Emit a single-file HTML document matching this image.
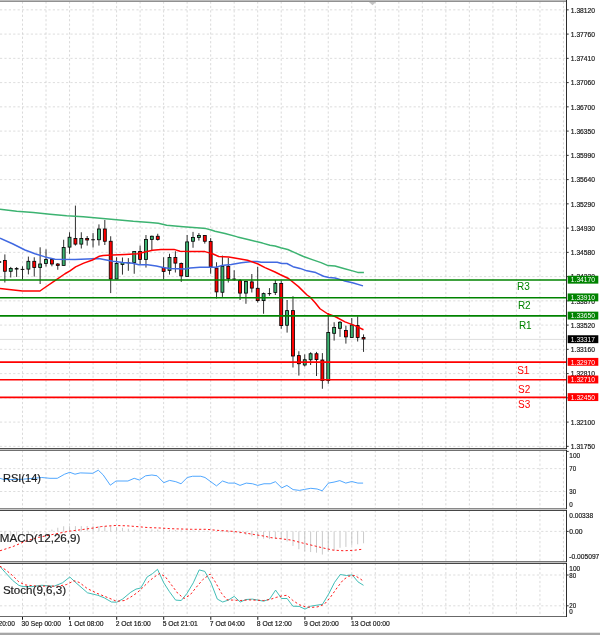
<!DOCTYPE html>
<html lang="en"><head><meta charset="utf-8"><title>Chart</title>
<style>html,body{margin:0;padding:0;background:#fff;overflow:hidden}svg{display:block}text{font-family:"Liberation Sans", sans-serif}</style>
</head><body>
<svg width="600" height="635" viewBox="0 0 600 635">
<rect x="0" y="0" width="600" height="635" fill="#fff"/>
<g stroke="#d0d0d0" stroke-width="0.8" stroke-dasharray="2.2 2.2" fill="none">
<g stroke="#d4d4d4">
<line x1="0" y1="9.85" x2="566.5" y2="9.85"/>
<line x1="0" y1="34.10" x2="566.5" y2="34.10"/>
<line x1="0" y1="58.35" x2="566.5" y2="58.35"/>
<line x1="0" y1="82.60" x2="566.5" y2="82.60"/>
<line x1="0" y1="106.85" x2="566.5" y2="106.85"/>
<line x1="0" y1="131.10" x2="566.5" y2="131.10"/>
<line x1="0" y1="155.35" x2="566.5" y2="155.35"/>
<line x1="0" y1="179.60" x2="566.5" y2="179.60"/>
<line x1="0" y1="203.85" x2="566.5" y2="203.85"/>
<line x1="0" y1="228.10" x2="566.5" y2="228.10"/>
<line x1="0" y1="252.35" x2="566.5" y2="252.35"/>
<line x1="0" y1="276.60" x2="566.5" y2="276.60"/>
<line x1="0" y1="300.85" x2="566.5" y2="300.85"/>
<line x1="0" y1="325.10" x2="566.5" y2="325.10"/>
<line x1="0" y1="349.35" x2="566.5" y2="349.35"/>
<line x1="0" y1="373.60" x2="566.5" y2="373.60"/>
<line x1="0" y1="397.85" x2="566.5" y2="397.85"/>
<line x1="0" y1="422.10" x2="566.5" y2="422.10"/>
<line x1="0" y1="446.35" x2="566.5" y2="446.35"/>
<line x1="0" y1="468.60" x2="566.5" y2="468.60"/>
<line x1="0" y1="491.50" x2="566.5" y2="491.50"/>
<line x1="0" y1="531.40" x2="566.5" y2="531.40"/>
<line x1="0" y1="575.00" x2="566.5" y2="575.00"/>
<line x1="0" y1="605.80" x2="566.5" y2="605.80"/>
</g>
<line x1="22.50" y1="1.5" x2="22.50" y2="448.5"/>
<line x1="22.50" y1="450.4" x2="22.50" y2="508.4"/>
<line x1="22.50" y1="510.2" x2="22.50" y2="561.4"/>
<line x1="22.50" y1="563.3" x2="22.50" y2="616.5"/>
<line x1="46.02" y1="1.5" x2="46.02" y2="448.5"/>
<line x1="46.02" y1="450.4" x2="46.02" y2="508.4"/>
<line x1="46.02" y1="510.2" x2="46.02" y2="561.4"/>
<line x1="46.02" y1="563.3" x2="46.02" y2="616.5"/>
<line x1="69.54" y1="1.5" x2="69.54" y2="448.5"/>
<line x1="69.54" y1="450.4" x2="69.54" y2="508.4"/>
<line x1="69.54" y1="510.2" x2="69.54" y2="561.4"/>
<line x1="69.54" y1="563.3" x2="69.54" y2="616.5"/>
<line x1="93.06" y1="1.5" x2="93.06" y2="448.5"/>
<line x1="93.06" y1="450.4" x2="93.06" y2="508.4"/>
<line x1="93.06" y1="510.2" x2="93.06" y2="561.4"/>
<line x1="93.06" y1="563.3" x2="93.06" y2="616.5"/>
<line x1="116.58" y1="1.5" x2="116.58" y2="448.5"/>
<line x1="116.58" y1="450.4" x2="116.58" y2="508.4"/>
<line x1="116.58" y1="510.2" x2="116.58" y2="561.4"/>
<line x1="116.58" y1="563.3" x2="116.58" y2="616.5"/>
<line x1="140.10" y1="1.5" x2="140.10" y2="448.5"/>
<line x1="140.10" y1="450.4" x2="140.10" y2="508.4"/>
<line x1="140.10" y1="510.2" x2="140.10" y2="561.4"/>
<line x1="140.10" y1="563.3" x2="140.10" y2="616.5"/>
<line x1="163.62" y1="1.5" x2="163.62" y2="448.5"/>
<line x1="163.62" y1="450.4" x2="163.62" y2="508.4"/>
<line x1="163.62" y1="510.2" x2="163.62" y2="561.4"/>
<line x1="163.62" y1="563.3" x2="163.62" y2="616.5"/>
<line x1="187.14" y1="1.5" x2="187.14" y2="448.5"/>
<line x1="187.14" y1="450.4" x2="187.14" y2="508.4"/>
<line x1="187.14" y1="510.2" x2="187.14" y2="561.4"/>
<line x1="187.14" y1="563.3" x2="187.14" y2="616.5"/>
<line x1="210.66" y1="1.5" x2="210.66" y2="448.5"/>
<line x1="210.66" y1="450.4" x2="210.66" y2="508.4"/>
<line x1="210.66" y1="510.2" x2="210.66" y2="561.4"/>
<line x1="210.66" y1="563.3" x2="210.66" y2="616.5"/>
<line x1="234.18" y1="1.5" x2="234.18" y2="448.5"/>
<line x1="234.18" y1="450.4" x2="234.18" y2="508.4"/>
<line x1="234.18" y1="510.2" x2="234.18" y2="561.4"/>
<line x1="234.18" y1="563.3" x2="234.18" y2="616.5"/>
<line x1="257.70" y1="1.5" x2="257.70" y2="448.5"/>
<line x1="257.70" y1="450.4" x2="257.70" y2="508.4"/>
<line x1="257.70" y1="510.2" x2="257.70" y2="561.4"/>
<line x1="257.70" y1="563.3" x2="257.70" y2="616.5"/>
<line x1="281.22" y1="1.5" x2="281.22" y2="448.5"/>
<line x1="281.22" y1="450.4" x2="281.22" y2="508.4"/>
<line x1="281.22" y1="510.2" x2="281.22" y2="561.4"/>
<line x1="281.22" y1="563.3" x2="281.22" y2="616.5"/>
<line x1="304.74" y1="1.5" x2="304.74" y2="448.5"/>
<line x1="304.74" y1="450.4" x2="304.74" y2="508.4"/>
<line x1="304.74" y1="510.2" x2="304.74" y2="561.4"/>
<line x1="304.74" y1="563.3" x2="304.74" y2="616.5"/>
<line x1="328.26" y1="1.5" x2="328.26" y2="448.5"/>
<line x1="328.26" y1="450.4" x2="328.26" y2="508.4"/>
<line x1="328.26" y1="510.2" x2="328.26" y2="561.4"/>
<line x1="328.26" y1="563.3" x2="328.26" y2="616.5"/>
<line x1="351.78" y1="1.5" x2="351.78" y2="448.5"/>
<line x1="351.78" y1="450.4" x2="351.78" y2="508.4"/>
<line x1="351.78" y1="510.2" x2="351.78" y2="561.4"/>
<line x1="351.78" y1="563.3" x2="351.78" y2="616.5"/>
<line x1="375.30" y1="1.5" x2="375.30" y2="448.5"/>
<line x1="375.30" y1="450.4" x2="375.30" y2="508.4"/>
<line x1="375.30" y1="510.2" x2="375.30" y2="561.4"/>
<line x1="375.30" y1="563.3" x2="375.30" y2="616.5"/>
<line x1="398.82" y1="1.5" x2="398.82" y2="448.5"/>
<line x1="398.82" y1="450.4" x2="398.82" y2="508.4"/>
<line x1="398.82" y1="510.2" x2="398.82" y2="561.4"/>
<line x1="398.82" y1="563.3" x2="398.82" y2="616.5"/>
<line x1="422.34" y1="1.5" x2="422.34" y2="448.5"/>
<line x1="422.34" y1="450.4" x2="422.34" y2="508.4"/>
<line x1="422.34" y1="510.2" x2="422.34" y2="561.4"/>
<line x1="422.34" y1="563.3" x2="422.34" y2="616.5"/>
<line x1="445.86" y1="1.5" x2="445.86" y2="448.5"/>
<line x1="445.86" y1="450.4" x2="445.86" y2="508.4"/>
<line x1="445.86" y1="510.2" x2="445.86" y2="561.4"/>
<line x1="445.86" y1="563.3" x2="445.86" y2="616.5"/>
<line x1="469.38" y1="1.5" x2="469.38" y2="448.5"/>
<line x1="469.38" y1="450.4" x2="469.38" y2="508.4"/>
<line x1="469.38" y1="510.2" x2="469.38" y2="561.4"/>
<line x1="469.38" y1="563.3" x2="469.38" y2="616.5"/>
<line x1="492.90" y1="1.5" x2="492.90" y2="448.5"/>
<line x1="492.90" y1="450.4" x2="492.90" y2="508.4"/>
<line x1="492.90" y1="510.2" x2="492.90" y2="561.4"/>
<line x1="492.90" y1="563.3" x2="492.90" y2="616.5"/>
<line x1="516.42" y1="1.5" x2="516.42" y2="448.5"/>
<line x1="516.42" y1="450.4" x2="516.42" y2="508.4"/>
<line x1="516.42" y1="510.2" x2="516.42" y2="561.4"/>
<line x1="516.42" y1="563.3" x2="516.42" y2="616.5"/>
<line x1="539.94" y1="1.5" x2="539.94" y2="448.5"/>
<line x1="539.94" y1="450.4" x2="539.94" y2="508.4"/>
<line x1="539.94" y1="510.2" x2="539.94" y2="561.4"/>
<line x1="539.94" y1="563.3" x2="539.94" y2="616.5"/>
<line x1="563.46" y1="1.5" x2="563.46" y2="448.5"/>
<line x1="563.46" y1="450.4" x2="563.46" y2="508.4"/>
<line x1="563.46" y1="510.2" x2="563.46" y2="561.4"/>
<line x1="563.46" y1="563.3" x2="563.46" y2="616.5"/>
</g>
<rect x="0" y="0" width="566.9" height="1" fill="#bcbcbc"/>
<rect x="0" y="1" width="566.9" height="0.9" fill="#858585"/>
<polygon points="368.9,1.9 376.1,1.9 372.5,5.3" fill="#c4c4c4"/>
<line x1="0" y1="339.4" x2="566.5" y2="339.4" stroke="#d2d2d2" stroke-width="0.75"/>
<g stroke="#000" stroke-width="0.82">
<line x1="0" y1="262" x2="1.2" y2="262" stroke-width="1.3"/>
<line x1="4.86" y1="254.4" x2="4.86" y2="282.5"/>
<rect x="3.38" y="260.4" width="2.95" height="10.85" fill="#ff0000"/>
<line x1="10.74" y1="266.9" x2="10.74" y2="277.5"/>
<rect x="9.27" y="268.5" width="2.95" height="2.80" fill="#3cb371"/>
<line x1="16.62" y1="267.1" x2="16.62" y2="276.9"/>
<line x1="14.75" y1="268.8" x2="18.50" y2="268.8" stroke-width="1.4"/>
<line x1="22.50" y1="266.3" x2="22.50" y2="279.4"/>
<line x1="20.62" y1="269.4" x2="24.38" y2="269.4" stroke-width="0.95"/>
<line x1="28.38" y1="256.6" x2="28.38" y2="274.4"/>
<rect x="26.90" y="261.3" width="2.95" height="7.80" fill="#3cb371"/>
<line x1="34.26" y1="257.3" x2="34.26" y2="276.6"/>
<rect x="32.78" y="261.3" width="2.95" height="6.20" fill="#ff0000"/>
<line x1="40.14" y1="247.3" x2="40.14" y2="284"/>
<rect x="38.66" y="264" width="2.95" height="3.50" fill="#3cb371"/>
<line x1="46.02" y1="249.4" x2="46.02" y2="266.5"/>
<rect x="44.54" y="259.6" width="2.95" height="3.90" fill="#3cb371"/>
<line x1="51.90" y1="259" x2="51.90" y2="266.3"/>
<rect x="50.42" y="259.6" width="2.95" height="4.40" fill="#ff0000"/>
<line x1="57.78" y1="263.1" x2="57.78" y2="269.75"/>
<rect x="56.30" y="264" width="2.95" height="1.40" fill="#ff0000"/>
<line x1="63.66" y1="239.75" x2="63.66" y2="265.4"/>
<rect x="62.18" y="247.5" width="2.95" height="17.90" fill="#3cb371"/>
<line x1="69.54" y1="232.25" x2="69.54" y2="253.75"/>
<rect x="68.06" y="237.25" width="2.95" height="9.85" fill="#3cb371"/>
<line x1="75.42" y1="205.6" x2="75.42" y2="245.6"/>
<rect x="73.95" y="238.5" width="2.95" height="5.60" fill="#ff0000"/>
<line x1="81.30" y1="232.25" x2="81.30" y2="248.5"/>
<rect x="79.83" y="238.5" width="2.95" height="5.60" fill="#3cb371"/>
<line x1="87.18" y1="236" x2="87.18" y2="245.6"/>
<rect x="85.70" y="238.5" width="2.95" height="1.50" fill="#ff0000"/>
<line x1="93.06" y1="233.1" x2="93.06" y2="247.5"/>
<line x1="91.19" y1="239.75" x2="94.94" y2="239.75" stroke-width="0.95"/>
<line x1="98.94" y1="224.4" x2="98.94" y2="245.6"/>
<rect x="97.47" y="229" width="2.95" height="10.75" fill="#3cb371"/>
<line x1="104.82" y1="220" x2="104.82" y2="245"/>
<rect x="103.34" y="229" width="2.95" height="12.25" fill="#ff0000"/>
<line x1="110.70" y1="236.25" x2="110.70" y2="293.1"/>
<rect x="109.23" y="241.25" width="2.95" height="37.75" fill="#ff0000"/>
<line x1="116.58" y1="257.25" x2="116.58" y2="279"/>
<rect x="115.11" y="263.5" width="2.95" height="15.50" fill="#3cb371"/>
<line x1="122.46" y1="257.5" x2="122.46" y2="274.6"/>
<rect x="120.98" y="262.5" width="2.95" height="1.90" fill="#3cb371"/>
<line x1="128.34" y1="258.1" x2="128.34" y2="270.8"/>
<line x1="126.47" y1="262.8" x2="130.22" y2="262.8" stroke-width="0.95"/>
<line x1="134.22" y1="251.25" x2="134.22" y2="273.75"/>
<rect x="132.75" y="251.5" width="2.95" height="11.00" fill="#3cb371"/>
<line x1="140.10" y1="245.6" x2="140.10" y2="264.1"/>
<rect x="138.62" y="251.4" width="2.95" height="8.00" fill="#ff0000"/>
<line x1="145.98" y1="235" x2="145.98" y2="267.6"/>
<rect x="144.51" y="239.4" width="2.95" height="20.00" fill="#3cb371"/>
<line x1="151.86" y1="235.6" x2="151.86" y2="250"/>
<rect x="150.38" y="236.25" width="2.95" height="3.15" fill="#3cb371"/>
<line x1="157.74" y1="233.75" x2="157.74" y2="240.6"/>
<rect x="156.27" y="236.25" width="2.95" height="3.15" fill="#ff0000"/>
<line x1="163.62" y1="257.25" x2="163.62" y2="279.2"/>
<rect x="162.15" y="267.75" width="2.95" height="3.65" fill="#ff0000"/>
<line x1="169.50" y1="253.75" x2="169.50" y2="274.6"/>
<rect x="168.03" y="257.5" width="2.95" height="12.90" fill="#3cb371"/>
<line x1="175.38" y1="251.25" x2="175.38" y2="272.5"/>
<rect x="173.91" y="257.5" width="2.95" height="5.60" fill="#ff0000"/>
<line x1="181.26" y1="262.5" x2="181.26" y2="281.9"/>
<rect x="179.78" y="263.5" width="2.95" height="12.40" fill="#ff0000"/>
<line x1="187.14" y1="235" x2="187.14" y2="276.5"/>
<rect x="185.66" y="241.9" width="2.95" height="34.60" fill="#3cb371"/>
<line x1="193.02" y1="231.9" x2="193.02" y2="247.75"/>
<rect x="191.55" y="237.5" width="2.95" height="3.75" fill="#3cb371"/>
<line x1="198.90" y1="233.1" x2="198.90" y2="240.6"/>
<rect x="197.43" y="235.4" width="2.95" height="2.10" fill="#3cb371"/>
<line x1="204.78" y1="235" x2="204.78" y2="243.6"/>
<rect x="203.31" y="235.5" width="2.95" height="5.75" fill="#ff0000"/>
<line x1="210.66" y1="238.1" x2="210.66" y2="273.75"/>
<rect x="209.19" y="241.4" width="2.95" height="25.40" fill="#ff0000"/>
<line x1="216.54" y1="262.25" x2="216.54" y2="298.5"/>
<rect x="215.06" y="268.1" width="2.95" height="23.80" fill="#ff0000"/>
<line x1="222.42" y1="255.6" x2="222.42" y2="296.9"/>
<rect x="220.94" y="266.25" width="2.95" height="26.00" fill="#3cb371"/>
<line x1="228.30" y1="257.75" x2="228.30" y2="282.5"/>
<rect x="226.82" y="266.25" width="2.95" height="12.50" fill="#ff0000"/>
<line x1="234.18" y1="270.25" x2="234.18" y2="280.6"/>
<line x1="232.31" y1="279.1" x2="236.06" y2="279.1" stroke-width="0.95"/>
<line x1="240.06" y1="279" x2="240.06" y2="300"/>
<rect x="238.59" y="280.6" width="2.95" height="12.50" fill="#ff0000"/>
<line x1="245.94" y1="280.8" x2="245.94" y2="303.75"/>
<rect x="244.47" y="281.5" width="2.95" height="11.60" fill="#3cb371"/>
<line x1="251.82" y1="274" x2="251.82" y2="292.5"/>
<rect x="250.34" y="281.9" width="2.95" height="6.20" fill="#ff0000"/>
<line x1="257.70" y1="266.9" x2="257.70" y2="302.5"/>
<rect x="256.22" y="288.3" width="2.95" height="12.30" fill="#ff0000"/>
<line x1="263.58" y1="292.5" x2="263.58" y2="313.75"/>
<rect x="262.10" y="293.6" width="2.95" height="7.00" fill="#3cb371"/>
<line x1="269.46" y1="288.1" x2="269.46" y2="295.8"/>
<line x1="267.59" y1="293.6" x2="271.34" y2="293.6" stroke-width="0.95"/>
<line x1="275.34" y1="280" x2="275.34" y2="295"/>
<rect x="273.87" y="283.5" width="2.95" height="8.90" fill="#3cb371"/>
<line x1="281.22" y1="280.6" x2="281.22" y2="328.75"/>
<rect x="279.74" y="283.5" width="2.95" height="42.10" fill="#ff0000"/>
<line x1="287.10" y1="300" x2="287.10" y2="332.6"/>
<rect x="285.62" y="310.6" width="2.95" height="14.65" fill="#3cb371"/>
<line x1="292.98" y1="296.25" x2="292.98" y2="367.5"/>
<rect x="291.50" y="310.6" width="2.95" height="45.40" fill="#ff0000"/>
<line x1="298.86" y1="351.25" x2="298.86" y2="375.6"/>
<rect x="297.38" y="355.6" width="2.95" height="8.15" fill="#ff0000"/>
<line x1="304.74" y1="354.4" x2="304.74" y2="366.5"/>
<rect x="303.26" y="359.75" width="2.95" height="5.25" fill="#3cb371"/>
<line x1="310.62" y1="352.25" x2="310.62" y2="365"/>
<rect x="309.14" y="353.75" width="2.95" height="6.00" fill="#3cb371"/>
<line x1="316.50" y1="351.9" x2="316.50" y2="376"/>
<rect x="315.02" y="353.75" width="2.95" height="5.85" fill="#ff0000"/>
<line x1="322.38" y1="353.1" x2="322.38" y2="388.75"/>
<rect x="320.90" y="360" width="2.95" height="20.60" fill="#ff0000"/>
<line x1="328.26" y1="313.1" x2="328.26" y2="383.75"/>
<rect x="326.78" y="332.5" width="2.95" height="48.10" fill="#3cb371"/>
<line x1="334.14" y1="322.25" x2="334.14" y2="340.6"/>
<rect x="332.66" y="327.4" width="2.95" height="5.90" fill="#3cb371"/>
<line x1="340.02" y1="321.1" x2="340.02" y2="336.9"/>
<rect x="338.54" y="322.25" width="2.95" height="6.05" fill="#3cb371"/>
<line x1="345.90" y1="325.6" x2="345.90" y2="343.6"/>
<rect x="344.42" y="330.4" width="2.95" height="6.50" fill="#ff0000"/>
<line x1="351.78" y1="318.1" x2="351.78" y2="337.5"/>
<rect x="350.30" y="325" width="2.95" height="12.50" fill="#3cb371"/>
<line x1="357.66" y1="316.25" x2="357.66" y2="341.5"/>
<rect x="356.18" y="325.6" width="2.95" height="11.90" fill="#ff0000"/>
<line x1="363.54" y1="334.4" x2="363.54" y2="351.9"/>
<rect x="362.06" y="337.5" width="2.95" height="1.50" fill="#ff0000"/>
</g>
<polyline points="0.00,209.20 16.70,211.20 33.30,212.50 50.00,214.20 66.70,215.80 83.30,216.80 100.00,218.20 116.70,219.70 133.30,221.30 150.00,222.40 158.30,223.20 166.70,225.20 183.30,226.70 200.00,228.10 206.00,228.60 211.25,230.00 215.00,231.20 225.00,233.50 237.50,236.90 250.00,240.00 262.50,243.10 270.00,245.25 275.00,246.00 280.75,247.75 287.75,249.50 294.75,252.65 303.50,256.50 312.25,259.65 321.00,262.60 328.00,265.60 335.00,266.10 343.75,268.40 352.50,270.85 357.75,272.40 363.90,272.40" fill="none" stroke="#3cb371" stroke-width="1.5" stroke-linejoin="round"/>
<polyline points="0.00,238.20 12.50,243.75 25.00,250.00 35.00,253.75 45.00,256.90 55.00,259.30 75.00,259.40 98.75,258.60 106.25,260.00 113.00,261.25 123.00,262.40 133.00,263.30 138.75,264.75 147.50,264.75 156.25,266.10 163.00,267.60 170.00,268.60 185.00,269.00 190.00,268.10 200.00,267.25 216.25,267.25 221.25,265.60 231.25,264.40 241.25,262.75 252.50,261.50 257.50,261.50 261.00,262.20 277.25,262.20 281.60,263.50 286.90,263.50 293.00,266.65 300.00,268.40 307.00,270.85 315.75,272.60 323.60,276.30 328.90,277.50 335.00,278.00 343.75,280.65 352.50,282.75 363.00,285.90" fill="none" stroke="#4169e1" stroke-width="1.5" stroke-linejoin="round"/>
<polyline points="0.00,288.60 11.25,289.70 22.50,290.90 40.00,291.00 43.10,288.75 55.00,280.60 65.00,273.75 70.00,270.80 75.60,266.90 83.75,263.10 92.50,260.00 99.40,256.20 103.10,255.40 112.50,255.10 125.00,254.50 137.50,253.75 145.00,252.00 152.50,250.25 161.00,249.40 174.00,249.40 180.00,251.25 192.50,251.50 205.00,251.60 210.00,253.10 212.50,253.75 218.75,256.50 228.75,256.90 237.50,258.50 247.50,260.25 257.50,263.75 265.00,267.60 275.00,272.00 280.00,274.50 288.50,278.50 298.50,286.60 307.00,295.00 310.00,297.00 315.00,302.50 320.00,308.75 327.50,313.75 335.00,316.50 345.00,321.90 355.00,325.60 363.50,329.75" fill="none" stroke="#ff0000" stroke-width="1.5" stroke-linejoin="round"/>
<line x1="0" y1="280.0" x2="566.5" y2="280.0" stroke="#008300" stroke-width="1.6"/>
<line x1="0" y1="297.7" x2="566.5" y2="297.7" stroke="#008300" stroke-width="1.6"/>
<line x1="0" y1="315.9" x2="566.5" y2="315.9" stroke="#008300" stroke-width="1.6"/>
<line x1="0" y1="362.15" x2="566.5" y2="362.15" stroke="#ff0000" stroke-width="1.6"/>
<line x1="0" y1="379.8" x2="566.5" y2="379.8" stroke="#ff0000" stroke-width="1.6"/>
<line x1="0" y1="397.4" x2="566.5" y2="397.4" stroke="#ff0000" stroke-width="1.6"/>
<text x="517.0" y="290.4" font-size="10" fill="#008300">R3</text>
<text x="517.9" y="308.9" font-size="10" fill="#008300">R2</text>
<text x="518.9" y="328.7" font-size="10" fill="#008300">R1</text>
<text x="517.2" y="373.6" font-size="10" fill="#ff0000">S1</text>
<text x="518.1" y="393.3" font-size="10" fill="#ff0000">S2</text>
<text x="518.1" y="407.9" font-size="10" fill="#ff0000">S3</text>
<polyline points="0.00,478.30 4.20,479.60 20.80,479.40 41.70,477.50 50.00,478.30 57.30,478.30 64.60,474.20 69.80,472.30 75.00,474.20 80.20,472.90 92.70,473.30 98.30,470.20 103.10,474.80 110.30,485.20 116.00,481.00 127.90,481.00 134.20,478.30 139.40,480.00 145.60,475.80 151.90,475.00 157.10,475.80 163.75,482.70 169.60,480.40 175.80,481.70 181.00,483.75 187.30,477.50 192.50,476.25 200.80,476.25 205.00,477.50 216.50,485.90 222.50,481.00 228.50,483.10 234.80,483.10 240.00,485.40 246.25,483.10 252.50,483.75 257.70,485.40 264.00,483.75 270.20,483.75 275.40,481.70 281.70,487.90 286.90,485.40 293.10,489.60 299.40,490.40 304.60,489.40 310.80,488.30 317.10,489.00 322.20,490.80 328.40,483.10 334.00,482.10 339.80,480.60 345.80,483.10 351.70,481.50 357.90,483.10 363.10,483.10" fill="none" stroke="#3c9dff" stroke-width="0.9" stroke-linejoin="round"/>
<text x="2.95" y="481.8" font-size="11.3" fill="#1c1c1c" stroke="#1c1c1c" stroke-width="0.18" textLength="38" lengthAdjust="spacingAndGlyphs">RSI(14)</text>
<g stroke="#bcbcbc" stroke-width="0.8">
<line x1="4.86" y1="531.4" x2="4.86" y2="536.26"/>
<line x1="10.74" y1="531.4" x2="10.74" y2="535.96"/>
<line x1="16.62" y1="531.4" x2="16.62" y2="535.67"/>
<line x1="22.50" y1="531.4" x2="22.50" y2="535.17"/>
<line x1="28.38" y1="531.4" x2="28.38" y2="534.38"/>
<line x1="34.26" y1="531.4" x2="34.26" y2="533.60"/>
<line x1="40.14" y1="531.4" x2="40.14" y2="532.60"/>
<line x1="51.90" y1="531.4" x2="51.90" y2="529.62"/>
<line x1="57.78" y1="531.4" x2="57.78" y2="527.74"/>
<line x1="63.66" y1="531.4" x2="63.66" y2="526.29"/>
<line x1="69.54" y1="531.4" x2="69.54" y2="526.23"/>
<line x1="75.42" y1="531.4" x2="75.42" y2="526.16"/>
<line x1="81.30" y1="531.4" x2="81.30" y2="526.10"/>
<line x1="87.18" y1="531.4" x2="87.18" y2="526.03"/>
<line x1="93.06" y1="531.4" x2="93.06" y2="526.03"/>
<line x1="98.94" y1="531.4" x2="98.94" y2="526.09"/>
<line x1="104.82" y1="531.4" x2="104.82" y2="526.15"/>
<line x1="110.70" y1="531.4" x2="110.70" y2="526.29"/>
<line x1="116.58" y1="531.4" x2="116.58" y2="527.06"/>
<line x1="122.46" y1="531.4" x2="122.46" y2="527.87"/>
<line x1="128.34" y1="531.4" x2="128.34" y2="528.75"/>
<line x1="134.22" y1="531.4" x2="134.22" y2="529.42"/>
<line x1="140.10" y1="531.4" x2="140.10" y2="529.99"/>
<line x1="145.98" y1="531.4" x2="145.98" y2="529.58"/>
<line x1="151.86" y1="531.4" x2="151.86" y2="529.36"/>
<line x1="157.74" y1="531.4" x2="157.74" y2="529.56"/>
<line x1="163.62" y1="531.4" x2="163.62" y2="529.75"/>
<line x1="169.50" y1="531.4" x2="169.50" y2="529.95"/>
<line x1="175.38" y1="531.4" x2="175.38" y2="530.15"/>
<line x1="181.26" y1="531.4" x2="181.26" y2="530.32"/>
<line x1="187.14" y1="531.4" x2="187.14" y2="530.41"/>
<line x1="193.02" y1="531.4" x2="193.02" y2="530.50"/>
<line x1="198.90" y1="531.4" x2="198.90" y2="530.58"/>
<line x1="204.78" y1="531.4" x2="204.78" y2="530.92"/>
<line x1="216.54" y1="531.4" x2="216.54" y2="531.73"/>
<line x1="222.42" y1="531.4" x2="222.42" y2="532.16"/>
<line x1="228.30" y1="531.4" x2="228.30" y2="532.56"/>
<line x1="234.18" y1="531.4" x2="234.18" y2="532.94"/>
<line x1="240.06" y1="531.4" x2="240.06" y2="533.41"/>
<line x1="245.94" y1="531.4" x2="245.94" y2="534.80"/>
<line x1="251.82" y1="531.4" x2="251.82" y2="536.33"/>
<line x1="257.70" y1="531.4" x2="257.70" y2="538.51"/>
<line x1="263.58" y1="531.4" x2="263.58" y2="538.73"/>
<line x1="269.46" y1="531.4" x2="269.46" y2="539.10"/>
<line x1="275.34" y1="531.4" x2="275.34" y2="538.73"/>
<line x1="281.22" y1="531.4" x2="281.22" y2="539.34"/>
<line x1="287.10" y1="531.4" x2="287.10" y2="541.50"/>
<line x1="292.98" y1="531.4" x2="292.98" y2="545.91"/>
<line x1="298.86" y1="531.4" x2="298.86" y2="549.23"/>
<line x1="304.74" y1="531.4" x2="304.74" y2="551.25"/>
<line x1="310.62" y1="531.4" x2="310.62" y2="552.04"/>
<line x1="316.50" y1="531.4" x2="316.50" y2="552.69"/>
<line x1="322.38" y1="531.4" x2="322.38" y2="554.55"/>
<line x1="328.26" y1="531.4" x2="328.26" y2="551.44"/>
<line x1="334.14" y1="531.4" x2="334.14" y2="550.43"/>
<line x1="340.02" y1="531.4" x2="340.02" y2="547.77"/>
<line x1="345.90" y1="531.4" x2="345.90" y2="546.92"/>
<line x1="351.78" y1="531.4" x2="351.78" y2="545.29"/>
<line x1="357.66" y1="531.4" x2="357.66" y2="544.27"/>
<line x1="363.54" y1="531.4" x2="363.54" y2="543.25"/>
</g>
<polyline points="0.00,550.75 12.50,546.75 25.00,541.40 37.50,537.60 50.00,535.00 62.50,532.50 68.30,531.30 76.70,530.30 85.00,529.20 93.30,528.00 101.70,526.50 115.00,525.50 126.70,525.80 138.30,526.70 148.30,527.60 160.00,528.00 170.80,528.70 191.70,529.30 206.25,529.30 216.70,530.30 233.30,531.40 243.75,532.80 254.20,534.50 264.60,536.20 270.40,537.60 280.80,538.70 291.25,540.10 301.70,542.80 312.00,545.30 322.50,547.80 333.00,550.10 343.30,550.75 353.75,550.30 363.50,549.10" fill="none" stroke="#ff0000" stroke-width="0.9" stroke-dasharray="2.2 2.3"/>
<text x="-0.2" y="541.9" font-size="11.6" fill="#1c1c1c" stroke="#1c1c1c" stroke-width="0.18">MACD(12,26,9)</text>
<polyline points="0.00,566.60 5.20,572.40 12.50,580.30 18.75,585.30 22.90,586.60 31.25,586.60 41.70,585.30 54.20,586.20 62.50,582.80 69.80,577.00 76.00,582.80 87.50,592.80 97.90,595.30 104.20,597.80 111.50,602.00 116.70,602.20 122.50,599.10 130.80,592.20 136.00,589.10 140.80,588.00 147.10,577.00 152.70,573.50 157.50,569.30 163.75,582.80 169.40,591.60 175.60,600.10 181.25,600.50 187.10,593.25 193.30,582.80 199.20,569.90 204.80,571.40 211.00,582.80 217.30,599.10 222.70,602.00 228.30,600.10 234.20,596.40 240.20,602.00 246.00,599.50 252.30,599.10 263.75,601.20 269.60,599.10 275.60,590.10 281.50,598.50 287.10,598.50 292.90,606.20 299.20,606.40 305.00,609.10 310.60,606.20 316.90,605.20 322.50,604.30 328.50,594.30 334.60,582.30 340.30,574.50 346.50,575.50 352.30,574.90 357.90,581.80 363.50,585.30" fill="none" stroke="#2cb5ae" stroke-width="0.9" stroke-linejoin="round"/>
<polyline points="0.00,566.20 6.25,570.30 12.50,575.50 18.75,581.80 25.00,584.90 35.40,586.00 58.30,586.20 66.70,584.50 74.00,580.75 79.20,582.40 87.50,588.70 97.90,593.70 108.30,597.80 116.70,601.30 124.60,600.50 130.80,597.00 137.10,592.80 143.30,587.00 149.60,580.75 154.80,576.60 159.60,573.50 165.20,576.60 171.50,584.90 177.70,593.25 184.00,598.50 190.20,594.90 196.50,587.00 202.70,579.70 210.00,574.10 215.20,581.80 221.50,593.25 227.00,599.80 232.50,600.10 240.80,600.50 249.20,599.90 263.75,600.50 270.00,599.50 276.25,597.40 282.50,595.75 287.10,595.30 292.90,600.50 299.20,604.70 305.40,606.80 311.70,607.40 317.90,606.80 324.40,604.20 330.60,597.00 336.90,588.00 343.10,580.00 348.50,576.20 354.80,575.50 360.00,578.70 363.50,581.20" fill="none" stroke="#ff0000" stroke-width="0.9" stroke-dasharray="2.2 2.3"/>
<text x="2.9" y="594.3" font-size="11.6" fill="#1c1c1c" stroke="#1c1c1c" stroke-width="0.18">Stoch(9,6,3)</text>
<rect x="0" y="448" width="567" height="1" fill="#4c4c4c"/>
<rect x="0" y="449" width="567" height="1" fill="#c6c6c6"/>
<rect x="0" y="450" width="567" height="1" fill="#707070"/>
<rect x="0" y="508" width="567" height="1" fill="#8a8a8a"/>
<rect x="0" y="509" width="567" height="1" fill="#c8c8c8"/>
<rect x="0" y="510" width="567" height="1" fill="#464646"/>
<rect x="0" y="561" width="567" height="1" fill="#767676"/>
<rect x="0" y="562" width="567" height="1" fill="#c2c2c2"/>
<rect x="0" y="563" width="567" height="1" fill="#464646"/>
<rect x="0" y="616" width="567" height="1" fill="#686868"/>
<rect x="566" y="0" width="1" height="449" fill="#2c2c2c"/>
<rect x="566" y="450" width="1" height="59" fill="#2c2c2c"/>
<rect x="566" y="510" width="1" height="52" fill="#2c2c2c"/>
<rect x="566" y="563" width="1" height="54" fill="#2c2c2c"/>
<g font-size="7.9" fill="#1c1c1c" stroke="#1c1c1c" stroke-width="0.22">
<text x="570.8" y="12.60" textLength="24.2" lengthAdjust="spacingAndGlyphs">1.38120</text>
<text x="570.8" y="36.85" textLength="24.2" lengthAdjust="spacingAndGlyphs">1.37760</text>
<text x="570.8" y="61.10" textLength="24.2" lengthAdjust="spacingAndGlyphs">1.37410</text>
<text x="570.8" y="85.35" textLength="24.2" lengthAdjust="spacingAndGlyphs">1.37060</text>
<text x="570.8" y="109.60" textLength="24.2" lengthAdjust="spacingAndGlyphs">1.36700</text>
<text x="570.8" y="133.85" textLength="24.2" lengthAdjust="spacingAndGlyphs">1.36350</text>
<text x="570.8" y="158.10" textLength="24.2" lengthAdjust="spacingAndGlyphs">1.35990</text>
<text x="570.8" y="182.35" textLength="24.2" lengthAdjust="spacingAndGlyphs">1.35640</text>
<text x="570.8" y="206.60" textLength="24.2" lengthAdjust="spacingAndGlyphs">1.35290</text>
<text x="570.8" y="230.85" textLength="24.2" lengthAdjust="spacingAndGlyphs">1.34930</text>
<text x="570.8" y="255.10" textLength="24.2" lengthAdjust="spacingAndGlyphs">1.34580</text>
<text x="570.8" y="279.35" textLength="24.2" lengthAdjust="spacingAndGlyphs">1.34220</text>
<text x="570.8" y="303.60" textLength="24.2" lengthAdjust="spacingAndGlyphs">1.33870</text>
<text x="570.8" y="327.85" textLength="24.2" lengthAdjust="spacingAndGlyphs">1.33520</text>
<text x="570.8" y="352.10" textLength="24.2" lengthAdjust="spacingAndGlyphs">1.33160</text>
<text x="570.8" y="376.35" textLength="24.2" lengthAdjust="spacingAndGlyphs">1.32810</text>
<text x="570.8" y="400.60" textLength="24.2" lengthAdjust="spacingAndGlyphs">1.32450</text>
<text x="570.8" y="424.85" textLength="24.2" lengthAdjust="spacingAndGlyphs">1.32100</text>
<text x="570.8" y="449.10" textLength="24.2" lengthAdjust="spacingAndGlyphs">1.31750</text>
</g>
<g stroke="#1e1e1e" stroke-width="0.9">
<line x1="567" y1="9.85" x2="568.7" y2="9.85"/>
<line x1="567" y1="34.10" x2="568.7" y2="34.10"/>
<line x1="567" y1="58.35" x2="568.7" y2="58.35"/>
<line x1="567" y1="82.60" x2="568.7" y2="82.60"/>
<line x1="567" y1="106.85" x2="568.7" y2="106.85"/>
<line x1="567" y1="131.10" x2="568.7" y2="131.10"/>
<line x1="567" y1="155.35" x2="568.7" y2="155.35"/>
<line x1="567" y1="179.60" x2="568.7" y2="179.60"/>
<line x1="567" y1="203.85" x2="568.7" y2="203.85"/>
<line x1="567" y1="228.10" x2="568.7" y2="228.10"/>
<line x1="567" y1="252.35" x2="568.7" y2="252.35"/>
<line x1="567" y1="276.60" x2="568.7" y2="276.60"/>
<line x1="567" y1="300.85" x2="568.7" y2="300.85"/>
<line x1="567" y1="325.10" x2="568.7" y2="325.10"/>
<line x1="567" y1="349.35" x2="568.7" y2="349.35"/>
<line x1="567" y1="373.60" x2="568.7" y2="373.60"/>
<line x1="567" y1="397.85" x2="568.7" y2="397.85"/>
<line x1="567" y1="422.10" x2="568.7" y2="422.10"/>
<line x1="567" y1="446.35" x2="568.7" y2="446.35"/>
<line x1="567" y1="451.40" x2="568.7" y2="451.40"/>
<line x1="567" y1="531.40" x2="568.7" y2="531.40"/>
<line x1="567" y1="575.00" x2="568.7" y2="575.00"/>
<line x1="567" y1="605.80" x2="568.7" y2="605.80"/>
</g>
<rect x="567.7" y="275.75" width="30.6" height="7.9" fill="#008300"/>
<text x="570.8" y="282.45" font-size="7.9" fill="#fff" textLength="24.2" lengthAdjust="spacingAndGlyphs">1.34170</text>
<rect x="567.7" y="293.45" width="30.6" height="7.9" fill="#008300"/>
<text x="570.8" y="300.15" font-size="7.9" fill="#fff" textLength="24.2" lengthAdjust="spacingAndGlyphs">1.33910</text>
<rect x="567.7" y="311.65" width="30.6" height="7.9" fill="#008300"/>
<text x="570.8" y="318.35" font-size="7.9" fill="#fff" textLength="24.2" lengthAdjust="spacingAndGlyphs">1.33650</text>
<rect x="567.7" y="357.90" width="30.6" height="7.9" fill="#ff0000"/>
<text x="570.8" y="364.60" font-size="7.9" fill="#fff" textLength="24.2" lengthAdjust="spacingAndGlyphs">1.32970</text>
<rect x="567.7" y="375.55" width="30.6" height="7.9" fill="#ff0000"/>
<text x="570.8" y="382.25" font-size="7.9" fill="#fff" textLength="24.2" lengthAdjust="spacingAndGlyphs">1.32710</text>
<rect x="567.7" y="393.15" width="30.6" height="7.9" fill="#ff0000"/>
<text x="570.8" y="399.85" font-size="7.9" fill="#fff" textLength="24.2" lengthAdjust="spacingAndGlyphs">1.32450</text>
<rect x="567.7" y="335.25" width="30.6" height="7.9" fill="#000"/>
<text x="570.8" y="341.95" font-size="7.9" fill="#fff" textLength="24.2" lengthAdjust="spacingAndGlyphs">1.33317</text>
<g font-size="7.9" fill="#1c1c1c" stroke="#1c1c1c" stroke-width="0.22">
<text x="569.3" y="457.75" textLength="10.8" lengthAdjust="spacingAndGlyphs">100</text>
<text x="569.3" y="470.85" textLength="6.8" lengthAdjust="spacingAndGlyphs">70</text>
<text x="569.3" y="494.05" textLength="6.8" lengthAdjust="spacingAndGlyphs">30</text>
<text x="569.3" y="506.65" textLength="3.5" lengthAdjust="spacingAndGlyphs">0</text>
<text x="569.3" y="517.85" textLength="23.8" lengthAdjust="spacingAndGlyphs">0.00338</text>
<text x="569.3" y="534.15" textLength="13.2" lengthAdjust="spacingAndGlyphs">0.00</text>
<text x="569.3" y="559.45" textLength="30.0" lengthAdjust="spacingAndGlyphs">-0.005097</text>
<text x="569.3" y="571.45" textLength="10.8" lengthAdjust="spacingAndGlyphs">100</text>
<text x="569.3" y="578.05" textLength="6.8" lengthAdjust="spacingAndGlyphs">80</text>
<text x="569.3" y="608.05" textLength="6.8" lengthAdjust="spacingAndGlyphs">20</text>
<text x="569.3" y="614.45" textLength="3.5" lengthAdjust="spacingAndGlyphs">0</text>
</g>
<g font-size="7.9" fill="#1c1c1c" stroke="#1c1c1c" stroke-width="0.22">
<text x="-24.10" y="625.9" textLength="39" lengthAdjust="spacingAndGlyphs">29 Sep 20:00</text>
<text x="21.50" y="625.9" textLength="39.5" lengthAdjust="spacingAndGlyphs">30 Sep 00:00</text>
<text x="68.60" y="625.9" textLength="35" lengthAdjust="spacingAndGlyphs">1 Oct 08:00</text>
<text x="115.70" y="625.9" textLength="35" lengthAdjust="spacingAndGlyphs">2 Oct 16:00</text>
<text x="162.70" y="625.9" textLength="35" lengthAdjust="spacingAndGlyphs">5 Oct 21:01</text>
<text x="209.80" y="625.9" textLength="35" lengthAdjust="spacingAndGlyphs">7 Oct 04:00</text>
<text x="256.80" y="625.9" textLength="35" lengthAdjust="spacingAndGlyphs">8 Oct 12:00</text>
<text x="303.90" y="625.9" textLength="35" lengthAdjust="spacingAndGlyphs">9 Oct 20:00</text>
<text x="350.90" y="625.9" textLength="39" lengthAdjust="spacingAndGlyphs">13 Oct 00:00</text>
</g>
<g stroke="#161616" stroke-width="1">
<line x1="22.50" y1="617" x2="22.50" y2="619.8"/>
<line x1="69.60" y1="617" x2="69.60" y2="619.8"/>
<line x1="116.70" y1="617" x2="116.70" y2="619.8"/>
<line x1="163.70" y1="617" x2="163.70" y2="619.8"/>
<line x1="210.80" y1="617" x2="210.80" y2="619.8"/>
<line x1="257.80" y1="617" x2="257.80" y2="619.8"/>
<line x1="304.90" y1="617" x2="304.90" y2="619.8"/>
<line x1="351.90" y1="617" x2="351.90" y2="619.8"/>
</g>
<rect x="0" y="632.7" width="600" height="2.3" fill="#a6a6a6"/>
</svg></body></html>
